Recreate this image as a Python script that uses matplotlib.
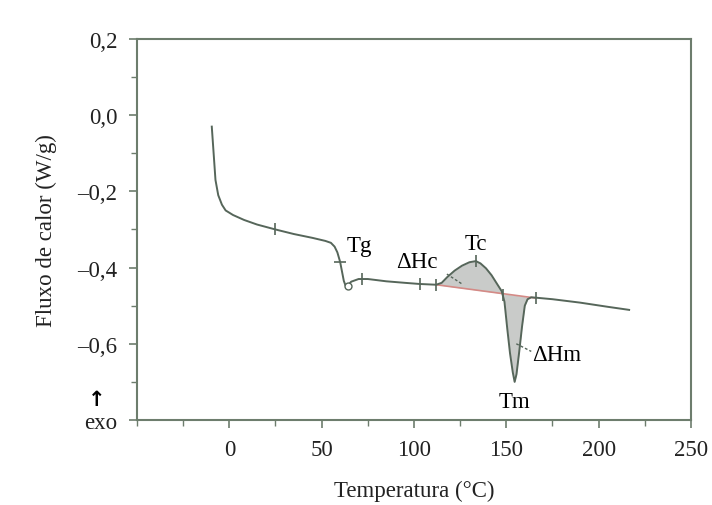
import numpy as np
import matplotlib
matplotlib.use("Agg")
import matplotlib.pyplot as plt
from matplotlib.ticker import MultipleLocator, FixedLocator
import matplotlib.transforms as mtransforms

plt.rcParams["font.family"] = ["Liberation Serif", "DejaVu Serif"]

# Curva DSC: temperatura (°C) e fluxo de calor (W/g)
temperatura = [-9.5, -8.5, -7.5, -6.0, -4.0, -2.0, 2.0, 8.0, 15.0, 25.0, 35.0,
               45.0, 52.0, 55.0, 57.0, 58.5, 60.0, 61.0, 62.0, 63.0, 64.5,
               66.0, 70.0, 75.0, 85.0, 95.0, 103.0, 112.0, 115.0, 118.0,
               122.0, 126.0, 130.0, 133.5, 136.0, 139.0, 142.0, 145.0, 147.5,
               149.0, 150.5, 152.0, 153.5, 154.5, 155.5, 157.0, 158.5, 160.0,
               161.5, 163.5, 166.0, 175.0, 190.0, 205.0, 216.5]
fluxo = [-0.030, -0.100, -0.170, -0.210, -0.235, -0.250, -0.262, -0.275,
         -0.287, -0.300, -0.312, -0.322, -0.330, -0.335, -0.345, -0.360,
         -0.385, -0.410, -0.435, -0.448, -0.445, -0.437, -0.430, -0.430,
         -0.436, -0.440, -0.443, -0.445, -0.440, -0.425, -0.408, -0.395,
         -0.386, -0.383, -0.389, -0.402, -0.420, -0.443, -0.462, -0.490,
         -0.560, -0.625, -0.675, -0.700, -0.680, -0.620, -0.555, -0.500,
         -0.483, -0.478, -0.479, -0.483, -0.492, -0.503, -0.511]

# Linha de base das transições (cristalização e fusão)
base_x = [112.0, 166.0]
base_y = [-0.445, -0.480]

# Marcas sobre a curva
marcas_x = [25.0, 72.0, 103.0, 112.0, 133.5, 148.0, 166.0]

x = np.array(temperatura)
y = np.array(fluxo)

fig = plt.figure(figsize=(7.12, 5.06), dpi=100)
ax = fig.add_axes([0.1924, 0.168, 0.7781, 0.753])

cor_linha = "#56665a"
cor_eixo = "#6d7d6d"

# Áreas entre a curva e a linha de base
sel = (x >= base_x[0]) & (x <= base_x[1])
base = np.interp(x[sel], base_x, base_y)
ax.fill_between(x[sel], y[sel], base, color="#c9cbc9", lw=0, zorder=1)

ax.plot(base_x, base_y, color="#d48a86", lw=1.2, zorder=2)
ax.plot(x, y, color=cor_linha, lw=1.4, zorder=3)

marcas_y = np.interp(marcas_x, x, y)
ax.plot(marcas_x, marcas_y, ls="none", marker="|", ms=9, mew=1.2,
        color=cor_linha, zorder=4)
ax.plot([60.0], [np.interp(60.0, x, y)], ls="none", marker="_", ms=9,
        mew=1.2, color=cor_linha, zorder=4)
ax.plot([64.0], [-0.448], ls="none", marker="o", ms=5, mfc="white",
        mec=cor_linha, mew=1.0, zorder=4)

# Linhas indicativas das entalpias
ax.plot([117.8, 126.0], [-0.417, -0.443], ls=(0, (2, 1.5)), lw=1.0,
        color=cor_linha, zorder=4)
ax.plot([155.4, 163.5], [-0.600, -0.620], ls=(0, (2, 1.5)), lw=1.0,
        color=cor_linha, zorder=4)

fs = 16.5
ax.text(70.4, -0.343, "Tg", fontsize=fs, ha="center", va="center")
ax.text(101.8, -0.383, "ΔHc", fontsize=fs, ha="center", va="center")
ax.text(133.7, -0.338, "Tc", fontsize=fs, ha="center", va="center")
ax.text(177.0, -0.627, "ΔHm", fontsize=fs, ha="center", va="center")
ax.text(154.3, -0.752, "Tm", fontsize=fs, ha="center", va="center")

ax.set_xlim(-50, 250)
ax.set_ylim(-0.8, 0.2)

ax.xaxis.set_major_locator(FixedLocator([0, 50, 100, 150, 200, 250]))
ax.xaxis.set_minor_locator(MultipleLocator(25))
ax.yaxis.set_major_locator(FixedLocator([-0.8, -0.6, -0.4, -0.2, 0.0, 0.2]))
ax.yaxis.set_minor_locator(MultipleLocator(0.1))
ax.set_yticklabels(["exo", "–0,6", "–0,4", "–0,2", "0,0", "0,2"])
trans = mtransforms.blended_transform_factory(ax.transAxes, ax.transData)
ax.text(-0.072, -0.745, "↑", transform=trans, fontsize=15,
        family=["DejaVu Sans"], fontweight="bold", ha="center", va="center")

for s in ax.spines.values():
    s.set_color(cor_eixo)
    s.set_linewidth(1.5)
ax.tick_params(which="both", direction="out", colors=cor_eixo,
               labelcolor="#222222", labelsize=fs, top=False, right=False)
ax.tick_params(which="major", length=6, width=1.2, pad=8)
ax.tick_params(which="minor", length=4, width=1.0)

ax.set_xlabel("Temperatura (°C)", fontsize=fs, labelpad=14, color="#222222")
ax.set_ylabel("Fluxo de calor (W/g)", fontsize=fs, labelpad=15,
              color="#222222")

fig.savefig("out.png", dpi=100, facecolor="white")
